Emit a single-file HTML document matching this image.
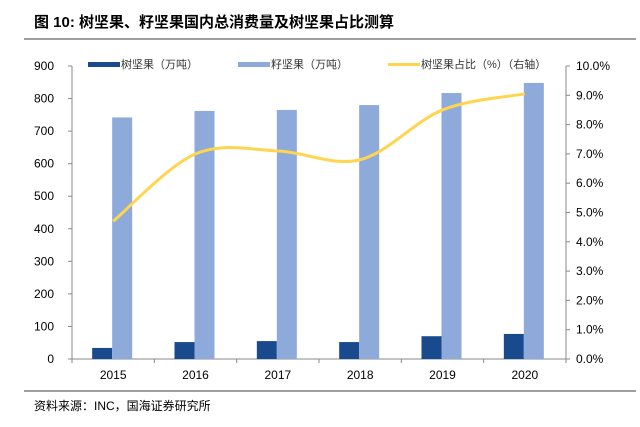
<!DOCTYPE html>
<html><head><meta charset="utf-8"><style>
body{margin:0;background:#fff;width:640px;height:422px;overflow:hidden;font-family:"Liberation Sans","Noto Sans CJK SC",sans-serif}
</style></head><body>
<svg width="640" height="422" xmlns="http://www.w3.org/2000/svg" font-family="Liberation Sans, Noto Sans CJK SC, sans-serif">
<text x="34" y="27" font-size="15" font-weight="bold" fill="#000">图 10:  树坚果、籽坚果国内总消费量及树坚果占比测算</text>
<line x1="24" y1="39" x2="636" y2="39" stroke="#666" stroke-width="1.2"/>
<line x1="24" y1="391" x2="636" y2="391" stroke="#666" stroke-width="1.2"/>
<text x="34" y="410" font-size="12" fill="#000">资料来源：INC，国海证券研究所</text>
<g font-size="11" fill="#333">
<rect x="88" y="62" width="32" height="5" fill="#1a4a8e"/><text x="121" y="68">树坚果（万吨）</text>
<rect x="238" y="62" width="32" height="5" fill="#8eaadb"/><text x="271" y="68">籽坚果（万吨）</text>
<rect x="388" y="63" width="32" height="3" fill="#ffd54f"/><text x="421" y="68">树坚果占比（%）（右轴）</text>
</g>
<g id="chart"></g>
</svg>
<script>
const categories=["2015","2016","2017","2018","2019","2020"];
const treeNuts=[34,52,55,52,70,77];
const seedNuts=[742,762,765,780,817,848];
const treeShare=[4.7,7.0,7.1,6.8,8.5,9.05];
const leftTicks=[0,100,200,300,400,500,600,700,800,900];
const rightTicks=[0,1,2,3,4,5,6,7,8,9,10];
const NS="http://www.w3.org/2000/svg";
const g=document.getElementById('chart');
const L=72,R=566,T=66,B=359;
const step=(R-L)/categories.length;
const xc=i=>L+step*(i+0.5);
const yL=v=>B-(v/900)*(B-T);
const yR=v=>B-(v/10)*(B-T);
function mk(t,a){const e=document.createElementNS(NS,t);for(const k in a)e.setAttribute(k,a[k]);g.appendChild(e);return e;}
let e;
e=mk('line',{x1:L,y1:T,x2:L,y2:B,stroke:'#888'});


e=mk('line',{x1:R,y1:T,x2:R,y2:B,stroke:'#888'});


e=mk('line',{x1:L,y1:B,x2:R,y2:B,stroke:'#888'});


leftTicks.forEach(v=>{
 mk('line',{x1:L-4,y1:yL(v),x2:L,y2:yL(v),stroke:'#888'});
 e=mk('text',{x:L-18,y:yL(v)+4,'font-size':12,'text-anchor':'end',fill:'#000'});e.textContent=v;
 
 
});
rightTicks.forEach(v=>{
 mk('line',{x1:R,y1:yR(v),x2:R+4,y2:yR(v),stroke:'#888'});
 e=mk('text',{x:R+10,y:yR(v)+4,'font-size':12,fill:'#000'});e.textContent=v.toFixed(1)+'%';
 
 
});
for(let i=0;i<=categories.length;i++)mk('line',{x1:L+step*i,y1:B,x2:L+step*i,y2:B+4,stroke:'#888'});
categories.forEach((c,i)=>{
 e=mk('rect',{x:xc(i)-21,y:yL(treeNuts[i]),width:20,height:B-yL(treeNuts[i]),fill:'#1a4a8e'});
 
 
 e=mk('rect',{x:xc(i)-1,y:yL(seedNuts[i]),width:20,height:B-yL(seedNuts[i]),fill:'#8eaadb'});
 
 
 e=mk('text',{x:xc(i),y:B+20,'font-size':12,'text-anchor':'middle',fill:'#000'});e.textContent=c;
 
 
});
const pts=treeShare.map((v,i)=>[xc(i),yR(v)]);
let d='M'+pts[0][0]+','+pts[0][1];
for(let i=0;i<pts.length-1;i++){
 const p0=pts[Math.max(0,i-1)],p1=pts[i],p2=pts[i+1],p3=pts[Math.min(pts.length-1,i+2)];
 const c1=[p1[0]+(p2[0]-p0[0])/6,p1[1]+(p2[1]-p0[1])/6],c2=[p2[0]-(p3[0]-p1[0])/6,p2[1]-(p3[1]-p1[1])/6];
 d+=' C'+c1+' '+c2+' '+p2;
}
e=mk('path',{d:d,fill:'none',stroke:'#ffd54f','stroke-width':3});


</script>
</body></html>
